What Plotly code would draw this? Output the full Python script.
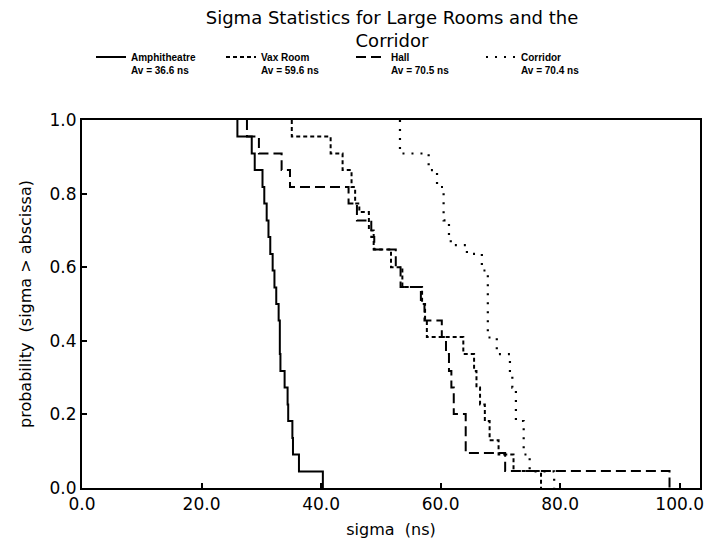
import plotly.graph_objects as go

# Survival-style step curves: probability that sigma exceeds the abscissa
amph_sigma = [26.0, 26.0, 28.4, 28.9, 30.2, 30.5, 30.9, 31.2, 31.5, 31.9, 32.2, 32.5,
              32.9, 33.1, 33.1, 33.2, 33.9, 34.4, 34.5, 35.2, 35.3, 36.3, 40.3]
amph_prob = [1.000, 0.955, 0.909, 0.864, 0.818, 0.773, 0.727, 0.682, 0.636, 0.591, 0.545, 0.500,
             0.455, 0.409, 0.364, 0.318, 0.273, 0.227, 0.182, 0.136, 0.091, 0.045, 0.000]

vax_sigma = [35.1, 35.1, 41.6, 43.6, 45.1, 45.7, 46.4, 48.0, 48.8, 51.7, 53.6, 56.9,
             57.4, 57.7, 63.8, 65.6, 66.0, 66.6, 67.4, 68.2, 69.7, 72.2, 76.8]
vax_prob = [1.000, 0.955, 0.909, 0.864, 0.818, 0.773, 0.750, 0.700, 0.648, 0.600, 0.546, 0.500,
            0.455, 0.410, 0.364, 0.318, 0.273, 0.227, 0.182, 0.130, 0.091, 0.046, 0.000]

hall_sigma = [27.6, 27.6, 29.6, 33.4, 34.8, 44.6, 46.0, 48.4, 48.9, 52.5, 53.3, 56.7,
              57.3, 60.2, 60.9, 61.4, 61.8, 62.2, 64.2, 70.8, 98.3]
hall_prob = [1.000, 0.955, 0.909, 0.864, 0.818, 0.773, 0.727, 0.682, 0.648, 0.600, 0.546, 0.500,
             0.455, 0.410, 0.364, 0.318, 0.273, 0.201, 0.095, 0.046, 0.000]

corr_sigma = [53.2, 53.2, 58.0, 59.4, 60.5, 61.4, 61.7, 64.4, 66.9, 67.9, 69.4, 71.6,
              72.0, 72.6, 73.9, 74.9, 79.0]
corr_prob = [1.000, 0.909, 0.864, 0.818, 0.727, 0.682, 0.660, 0.636, 0.591, 0.409, 0.364, 0.318,
             0.273, 0.182, 0.091, 0.045, 0.000]

series_names = ["Amphitheatre", "Vax Room", "Hall", "Corridor"]
series_avg = ["Av = 36.6 ns", "Av = 59.6 ns", "Av = 70.5 ns", "Av = 70.4 ns"]

x_ticks = [0, 20, 40, 60, 80, 100]
y_ticks = [0.0, 0.2, 0.4, 0.6, 0.8, 1.0]

FONT = "DejaVu Sans"
LEGEND_FONT = "Liberation Sans"

styles = [
    dict(dash="solid", width=2),
    dict(dash="4px,3px", width=2),
    dict(dash="10px,5px", width=2),
    dict(dash="2px,7px", width=2.2),
]
data = [(amph_sigma, amph_prob), (vax_sigma, vax_prob),
        (hall_sigma, hall_prob), (corr_sigma, corr_prob)]

fig = go.Figure()
for (xs, ps), name, avg, st in zip(data, series_names, series_avg, styles):
    fig.add_trace(go.Scatter(
        x=xs, y=ps, mode="lines", line_shape="hv",
        name=f"{name}<br>{avg}",
        line=dict(color="black", width=st["width"], dash=st["dash"]),
    ))

fig.update_layout(
    width=707, height=547,
    margin=dict(l=82, r=7, t=120, b=59, autoexpand=False),
    paper_bgcolor="white", plot_bgcolor="white",
    font=dict(family=FONT, color="black"),
    title=dict(
        text="Sigma Statistics for Large Rooms and the<br>Corridor",
        font=dict(family=FONT, size=18, color="black"),
        x=392 / 707, xanchor="center", xref="container",
        y=1 - 24 / 547, yanchor="top", yref="container",
    ),
    legend=dict(
        orientation="h", xref="container", x=91 / 707, xanchor="left",
        yref="container", y=1 - 44 / 547, yanchor="top",
        entrywidth=85, entrywidthmode="pixels", valign="top",
        font=dict(family=LEGEND_FONT, size=10, color="black", weight="bold"),
        bgcolor="rgba(0,0,0,0)", itemwidth=30, tracegroupgap=0,
    ),
    showlegend=True,
)

fig.update_xaxes(
    range=[0, 103.4], tickvals=x_ticks, tickformat=".1f",
    ticks="inside", ticklen=5, tickwidth=1.5, tickcolor="black",
    showline=True, linewidth=2, linecolor="black", mirror=True,
    showgrid=False, zeroline=False,
    tickfont=dict(family=FONT, size=17),
    title=dict(text="sigma  (ns)", font=dict(family=FONT, size=16), standoff=10),
)
fig.update_yaxes(
    range=[0, 1.0], tickvals=y_ticks, tickformat=".1f",
    ticks="inside", ticklen=5, tickwidth=1.5, tickcolor="black",
    showline=True, linewidth=2, linecolor="black", mirror=True,
    showgrid=False, zeroline=False,
    tickfont=dict(family=FONT, size=17),
    title=dict(text="probability  (sigma > abscissa)", font=dict(family=FONT, size=16), standoff=14),
)

fig.write_html("out.html")
